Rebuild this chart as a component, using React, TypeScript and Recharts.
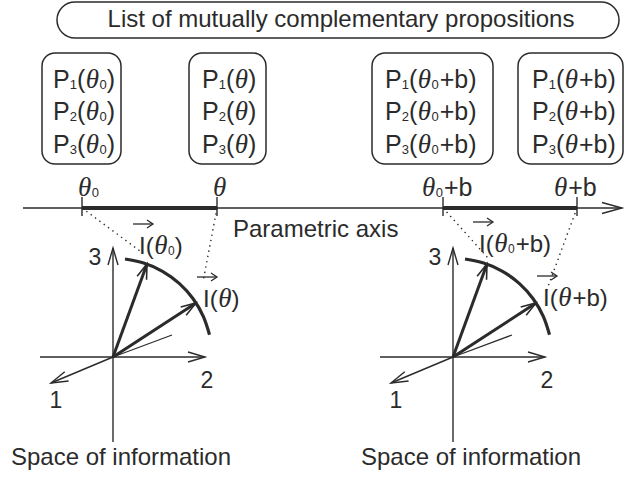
import React from 'react';
import { ComposedChart, XAxis, YAxis, ReferenceLine, ReferenceArea, ReferenceDot, Line } from 'recharts';

const INK = '#2b2b2b';
const SANS = '"Liberation Sans", Arial, Helvetica, sans-serif';
const SERIF = '"Liberation Serif", "Times New Roman", serif';
const THETA_FS = 27;

// ---------- data (diagram coordinates, in the chart's own x/y units) ----------
const titleText = 'List of mutually complementary propositions';
const titleBox = { x1: 57, x2: 619, y1: 2, y2: 38 };
const titleAnchor = { x: 341, y: 27 };

type Arg = { sub0: boolean; plusB: boolean };
const paramArgs: Arg[] = [
  { sub0: true, plusB: false },
  { sub0: false, plusB: false },
  { sub0: true, plusB: true },
  { sub0: false, plusB: true },
];

const propIndices = ['1', '2', '3'];
const propBoxLeft = [42, 189, 372, 518];
const propBoxRight = [121, 266, 493, 623];
const propBoxTop = 53;
const propBoxBottom = 164;
const propBaselines = [88, 120, 153];
const propTextLeft = [53, 202, 385, 532];

const tickX = [82, 217, 443, 577];
const tickLabelX = [78, 213, 422, 554];
const tickLabelBaseline = 196;
const tickTop = 197;
const tickBottom = 216;
const paramAxisY = 208;
const paramAxisStart = 23;
const paramAxisEnd = 622;
const intervals = [
  [82, 217],
  [443, 577],
];
const paramAxisLabel = { text: 'Parametric axis', x: 233, y: 237 };

const dottedSegs = [
  { x1: 82, y1: 208, x2: 140, y2: 251 },
  { x1: 217, y1: 208, x2: 203, y2: 282 },
  { x1: 443, y1: 208, x2: 488, y2: 258 },
  { x1: 577, y1: 208, x2: 546, y2: 292 },
];

const vecLabels = [
  { x: 139, y: 254 },
  { x: 203, y: 307 },
  { x: 479, y: 252 },
  { x: 543, y: 306 },
];

const spaceOrigins = [
  { x: 113, y: 357 },
  { x: 453, y: 357 },
];
const spaceLabel = 'Space of information';
const spaceLabelX = [121, 471];
const spaceLabelY = 465;

// axes of the information space (relative to origin)
const axisDefs = [
  { name: '3', from: [0, 85], to: [0, -109], label: [-18, -100] },
  { name: '2', from: [-73, 0], to: [92, 0], label: [94, 23] },
  { name: '1', from: [0, 0], to: [-62, 26], label: [-57, 43] },
];
// information vectors (relative to origin)
const infoVectors = [
  [34, -93],
  [83, -54],
];
const thinVector = [59, -22];

// arcs (points read along the drawn arc)
const arcLeft = [
  { x: 125, y: 259 },
  { x: 143.6, y: 263 },
  { x: 162.5, y: 271.3 },
  { x: 179.2, y: 283.4 },
  { x: 193.1, y: 298.8 },
  { x: 203.4, y: 316.7 },
  { x: 209.5, y: 334.7 },
];
const arcRight = [
  { x: 465, y: 259 },
  { x: 483.6, y: 263 },
  { x: 502.5, y: 271.3 },
  { x: 519.2, y: 283.4 },
  { x: 533.1, y: 298.8 },
  { x: 543.4, y: 316.7 },
  { x: 549.5, y: 334.7 },
];

// ---------- rendering helpers ----------
const argSpans = (arg: Arg, subFs: number, subDy: number, k: string, closeFs: number) => {
  const out: React.ReactNode[] = [];
  out.push(
    <tspan key={k + 't'} fontFamily={SERIF} fontStyle="italic" fontSize={THETA_FS} dx={0.5}>
      θ
    </tspan>
  );
  let shift = 0;
  if (arg.sub0) {
    out.push(
      <tspan key={k + 's'} fontSize={subFs} dy={subDy} dx={0.5}>
        0
      </tspan>
    );
    shift = subDy;
  }
  if (arg.plusB) {
    out.push(
      <tspan key={k + 'p'} dy={-shift} dx={1} fontSize={closeFs}>
        +b
      </tspan>
    );
    shift = 0;
  }
  out.push(
    <tspan key={k + 'c'} dy={-shift} fontSize={closeFs}>
      )
    </tspan>
  );
  return out;
};

const arrowShape = (head: number, half: number, width: number, headWidth: number) => (p: any) => {
  const { x1, y1, x2, y2 } = p;
  const dx = x2 - x1;
  const dy = y2 - y1;
  const len = Math.hypot(dx, dy) || 1;
  const ux = dx / len;
  const uy = dy / len;
  const bx = x2 - ux * head;
  const by = y2 - uy * head;
  const px = -uy * half;
  const py = ux * half;
  return (
    <g>
      <line x1={x1} y1={y1} x2={x2} y2={y2} stroke={INK} strokeWidth={width} />
      <polyline
        points={`${bx + px},${by + py} ${x2},${y2} ${bx - px},${by - py}`}
        fill="none"
        stroke={INK}
        strokeWidth={headWidth}
      />
    </g>
  );
};

const roundedBox = (rx: number) => (p: any) => {
  const x = Math.min(p.x, p.x + p.width);
  const y = Math.min(p.y, p.y + p.height);
  return (
    <rect
      x={x}
      y={y}
      width={Math.abs(p.width)}
      height={Math.abs(p.height)}
      rx={rx}
      ry={rx}
      fill="none"
      stroke={INK}
      strokeWidth={1.5}
    />
  );
};

const textShape = (text: string, fs: number, anchor: string) => (p: any) => (
  <text x={p.cx} y={p.cy} fontFamily={SANS} fontSize={fs} fill={INK} textAnchor={anchor}>
    {text}
  </text>
);

const propShape = (idx: string, arg: Arg) => (p: any) => (
  <text x={p.cx} y={p.cy} fontFamily={SANS} fontSize={25} fill={INK}>
    <tspan>P</tspan>
    <tspan fontSize={13} dy={1}>
      {idx}
    </tspan>
    <tspan dy={-1}>(</tspan>
    {argSpans(arg, 13, 1, 'p', 25)}
  </text>
);

const tickLabelShape = (arg: Arg) => (p: any) => (
  <text x={p.cx} y={p.cy} fontFamily={SANS} fontSize={25} fill={INK}>
    <tspan fontFamily={SERIF} fontStyle="italic" fontSize={THETA_FS}>
      θ
    </tspan>
    {arg.sub0 ? (
      <tspan fontSize={13} dy={1} dx={0.5}>
        0
      </tspan>
    ) : null}
    {arg.plusB ? (
      <tspan dy={arg.sub0 ? -1 : 0} dx={1}>
        +b
      </tspan>
    ) : null}
  </text>
);

const vecLabelShape = (arg: Arg) => (p: any) => {
  const x = p.cx;
  const y = p.cy;
  return (
    <g>
      <text x={x} y={y} fontFamily={SANS} fontSize={24} fill={INK}>
        <tspan>I(</tspan>
        {argSpans(arg, 12, 1, 'v', 24)}
      </text>
      <line x1={x - 6} y1={y - 30} x2={x + 14} y2={y - 30} stroke={INK} strokeWidth={1.3} />
      <polyline
        points={`${x + 8},${y - 34} ${x + 14},${y - 30} ${x + 8},${y - 26}`}
        fill="none"
        stroke={INK}
        strokeWidth={1.3}
      />
    </g>
  );
};

export default function App() {
  const spaceElems: React.ReactNode[] = [];
  spaceOrigins.forEach((o, si) => {
    axisDefs.forEach((a, ai) => {
      spaceElems.push(
        <ReferenceLine
          key={`ax-${si}-${ai}`}
          ifOverflow="visible"
          segment={[
            { x: o.x + a.from[0], y: o.y + a.from[1] },
            { x: o.x + a.to[0], y: o.y + a.to[1] },
          ]}
          shape={arrowShape(17, 5, 1.4, 1.4)}
        />
      );
      spaceElems.push(
        <ReferenceDot
          key={`axl-${si}-${ai}`}
          ifOverflow="visible"
          x={o.x + a.label[0]}
          y={o.y + a.label[1] + 8}
          r={0}
          shape={textShape(a.name, 23, 'middle')}
        />
      );
    });
    spaceElems.push(
      <ReferenceLine
        key={`thin-${si}`}
        ifOverflow="visible"
        segment={[
          { x: o.x, y: o.y },
          { x: o.x + thinVector[0], y: o.y + thinVector[1] },
        ]}
        stroke={INK}
        strokeWidth={1.2}
      />
    );
    infoVectors.forEach((v, vi) => {
      spaceElems.push(
        <ReferenceLine
          key={`vec-${si}-${vi}`}
          ifOverflow="visible"
          segment={[
            { x: o.x, y: o.y },
            { x: o.x + v[0], y: o.y + v[1] },
          ]}
          shape={arrowShape(15, 5, 3, 1.6)}
        />
      );
    });
    spaceElems.push(
      <ReferenceDot
        key={`sl-${si}`}
        ifOverflow="visible"
        x={spaceLabelX[si]}
        y={spaceLabelY}
        r={0}
        shape={textShape(spaceLabel, 24, 'middle')}
      />
    );
  });

  return (
    <div style={{ position: 'absolute', left: 0, top: 0, background: '#fff' }}>
      <ComposedChart width={626} height={479} data={[]} margin={{ top: 0, right: 0, bottom: 0, left: 0 }}>
        <XAxis type="number" dataKey="x" domain={[0, 626]} allowDataOverflow hide />
        <YAxis type="number" dataKey="y" domain={[0, 479]} allowDataOverflow reversed hide />

        {/* title */}
        <ReferenceArea
          ifOverflow="visible"
          x1={titleBox.x1}
          x2={titleBox.x2}
          y1={titleBox.y1}
          y2={titleBox.y2}
          shape={roundedBox(18)}
        />
        <ReferenceDot
          ifOverflow="visible"
          x={titleAnchor.x}
          y={titleAnchor.y}
          r={0}
          shape={textShape(titleText, 24, 'middle')}
        />

        {/* proposition boxes */}
        {propBoxLeft.map((l, i) => (
          <ReferenceArea
            key={`pb-${i}`}
            ifOverflow="visible"
            x1={l}
            x2={propBoxRight[i]}
            y1={propBoxTop}
            y2={propBoxBottom}
            shape={roundedBox(13)}
          />
        ))}
        {propBoxLeft.map((_, i) =>
          propIndices.map((idx, j) => (
            <ReferenceDot
              key={`pt-${i}-${j}`}
              ifOverflow="visible"
              x={propTextLeft[i]}
              y={propBaselines[j]}
              r={0}
              shape={propShape(idx, paramArgs[i])}
            />
          ))
        )}

        {/* parametric axis */}
        <ReferenceLine
          ifOverflow="visible"
          segment={[
            { x: paramAxisStart, y: paramAxisY },
            { x: paramAxisEnd, y: paramAxisY },
          ]}
          shape={arrowShape(20, 5.5, 1.4, 1.4)}
        />
        {intervals.map((iv, i) => (
          <ReferenceLine
            key={`iv-${i}`}
            ifOverflow="visible"
            segment={[
              { x: iv[0], y: paramAxisY },
              { x: iv[1], y: paramAxisY },
            ]}
            stroke={INK}
            strokeWidth={4}
          />
        ))}
        {tickX.map((t, i) => (
          <ReferenceLine
            key={`tk-${i}`}
            ifOverflow="visible"
            segment={[
              { x: t, y: tickTop },
              { x: t, y: tickBottom },
            ]}
            stroke={INK}
            strokeWidth={1.4}
          />
        ))}
        {tickX.map((_, i) => (
          <ReferenceDot
            key={`tl-${i}`}
            ifOverflow="visible"
            x={tickLabelX[i]}
            y={tickLabelBaseline}
            r={0}
            shape={tickLabelShape(paramArgs[i])}
          />
        ))}
        <ReferenceDot
          ifOverflow="visible"
          x={paramAxisLabel.x}
          y={paramAxisLabel.y}
          r={0}
          shape={textShape(paramAxisLabel.text, 24, 'start')}
        />

        {/* dotted projections */}
        {dottedSegs.map((d, i) => (
          <ReferenceLine
            key={`dt-${i}`}
            ifOverflow="visible"
            segment={[
              { x: d.x1, y: d.y1 },
              { x: d.x2, y: d.y2 },
            ]}
            stroke={INK}
            strokeWidth={1.4}
            strokeDasharray="1.4 4"
          />
        ))}

        {/* information spaces */}
        {spaceElems}

        <Line
          data={arcLeft}
          dataKey="y"
          type="natural"
          stroke={INK}
          strokeWidth={3.2}
          dot={false}
          activeDot={false}
          isAnimationActive={false}
        />
        <Line
          data={arcRight}
          dataKey="y"
          type="natural"
          stroke={INK}
          strokeWidth={3.2}
          dot={false}
          activeDot={false}
          isAnimationActive={false}
        />

        {vecLabels.map((v, i) => (
          <ReferenceDot
            key={`vl-${i}`}
            ifOverflow="visible"
            x={v.x}
            y={v.y}
            r={0}
            shape={vecLabelShape(paramArgs[i])}
          />
        ))}
      </ComposedChart>
    </div>
  );
}
